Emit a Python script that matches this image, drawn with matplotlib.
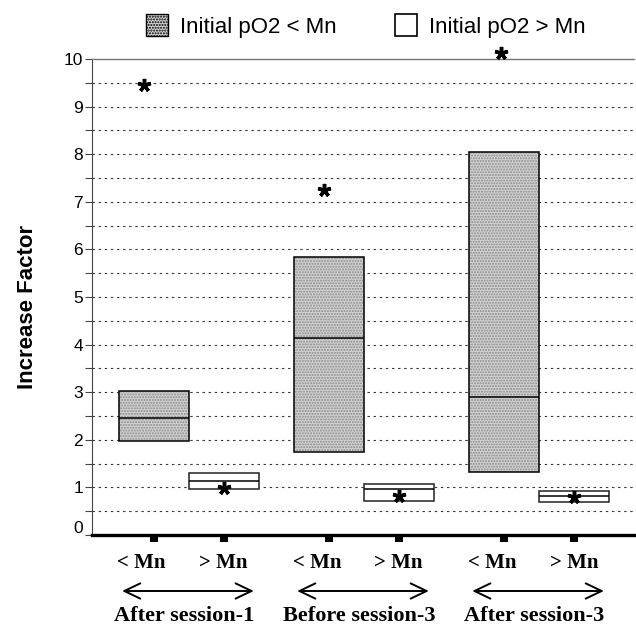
import matplotlib
matplotlib.use("Agg")
import matplotlib.pyplot as plt
from matplotlib.patches import Patch
import matplotlib.transforms as mtransforms
import numpy as np

# ---- data ----
groups = ["After session-1", "Before session-3", "After session-3"]
sub_labels = ["< Mn", "> Mn", "< Mn", "> Mn", "< Mn", "> Mn"]
box_top = [3.03, 1.30, 5.85, 1.08, 8.04, 0.93]
box_bottom = [1.97, 0.97, 1.74, 0.72, 1.32, 0.69]
box_median = [2.46, 1.13, 4.13, 0.96, 2.89, 0.81]
star_values = [9.45, 0.98, 7.25, 0.82, 10.12, 0.80]
star_dx = [-0.14, 0.0, -0.06, 0.0, -0.04, 0.0]
is_low = [True, False, True, False, True, False]
legend_labels = ["Initial pO2 < Mn", "Initial pO2 > Mn"]

SANS = ["Liberation Sans", "DejaVu Sans"]
SERIF = ["Liberation Serif", "DejaVu Serif"]
GRAY = "#d2d2d2"

fig = plt.figure(figsize=(6.36, 6.28), dpi=100)
ax = fig.add_axes([92 / 636, 1 - 535 / 628, (634 - 92) / 636, (535 - 59) / 628])

# positions: pairs within groups, 1.5 spacing between groups
group_centers = np.array([0.5, 3.0, 5.5])
pos = np.array([c + d for c in group_centers for d in (-0.5, 0.5)])

# grid
for yv in np.arange(0.5, 10, 0.5):
    ax.axhline(yv, color="#3a3a3a", lw=0.8, dashes=(2.2, 3.3), zorder=1)

heights = np.array(box_top) - np.array(box_bottom)
for i in range(len(pos)):
    if is_low[i]:
        ax.bar(pos[i], heights[i], bottom=box_bottom[i], width=1.0,
               facecolor=GRAY, edgecolor="#8a8a8a", hatch="......", lw=0, zorder=2)
        ax.bar(pos[i], heights[i], bottom=box_bottom[i], width=1.0,
               fill=False, edgecolor="black", lw=1.1, zorder=3)
    else:
        ax.bar(pos[i], heights[i], bottom=box_bottom[i], width=1.0,
               facecolor="white", edgecolor="#222222", lw=1.1, zorder=3)
    ax.hlines(box_median[i], pos[i] - 0.5, pos[i] + 0.5, color="black", lw=1.1, zorder=4)

ax.plot(pos + np.array(star_dx), star_values, linestyle="none",
        marker=(5, 2, 0), markersize=9.5, markeredgewidth=2.5, color="black",
        zorder=6, clip_on=False)

ax.set_xlim(-0.88, 6.86)
ax.set_ylim(0, 10)

# spines
ax.spines["right"].set_visible(False)
ax.spines["top"].set_color("#777777")
ax.spines["top"].set_linewidth(1.0)
ax.spines["left"].set_color("#444444")
ax.spines["left"].set_linewidth(0.8)
ax.spines["bottom"].set_color("black")
ax.spines["bottom"].set_linewidth(2.4)
ax.spines["bottom"].set_zorder(7)

ax.set_yticks(np.arange(0, 11, 1))
ax.set_yticks(np.arange(0.5, 10, 1), minor=True)
ax.set_yticklabels([str(v) for v in range(0, 11)], fontfamily=SANS, fontsize=12.5)
ax.tick_params(axis="y", which="both", length=5, width=0.8, color="#444444", pad=1.5)
ax.set_xticks(pos)
ax.set_xticklabels([])
ax.tick_params(axis="x", length=5, width=5.8, color="black", direction="out")

# lift the "0" label a little, as in the reference
zero_lab = ax.get_yticklabels()[0]
zero_lab.set_transform(zero_lab.get_transform() +
                       mtransforms.ScaledTranslation(0, 8 / 100, fig.dpi_scale_trans))

ax.set_ylabel("Increase Factor", fontfamily=SANS, fontsize=16, fontweight="bold")
ax.yaxis.set_label_coords(-0.099, 0.48)

# x labels
trans = mtransforms.blended_transform_factory(ax.transData, fig.transFigure)
for i, lab in enumerate(sub_labels):
    dx = -0.17 if is_low[i] else 0.0
    ax.text(pos[i] + dx, 1 - 568 / 628, lab, transform=trans, ha="center", va="baseline",
            fontfamily=SERIF, fontsize=15, fontweight="bold")
for c, g in zip(group_centers, groups):
    ax.annotate("", xy=(c - 0.99, 1 - 591 / 628), xytext=(c + 0.97, 1 - 591 / 628),
                xycoords=trans, textcoords=trans,
                arrowprops=dict(arrowstyle="<->,head_length=1.15,head_width=0.55",
                                mutation_scale=10, lw=1.4, color="black"),
                annotation_clip=False)
    ax.text(c - 0.06, 1 - 621 / 628, g, transform=trans, ha="center", va="baseline",
            fontfamily=SERIF, fontsize=16, fontweight="bold")

# legend
handles = [Patch(facecolor=GRAY, edgecolor="black", hatch="......", lw=1.0),
           Patch(facecolor="white", edgecolor="black", lw=1.2)]
leg = fig.legend(handles, legend_labels, loc="center", bbox_to_anchor=(366 / 636, 1 - 26 / 628),
                 ncol=2, frameon=False, prop={"family": SANS, "size": 16},
                 handlelength=1.0, handleheight=1.1, handletextpad=0.55, columnspacing=2.6,
                 borderpad=0, borderaxespad=0)

fig.savefig("out.png", dpi=100)
